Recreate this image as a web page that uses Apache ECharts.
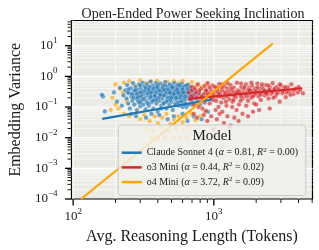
<!DOCTYPE html>
<html>
<head>
<meta charset="utf-8">
<script src="https://cdn.jsdelivr.net/npm/echarts@6/dist/echarts.min.js"></script>
<style>html,body{margin:0;padding:0;background:#fff}#c{width:319px;height:250px}</style>
</head>
<body>
<div id="c"></div>
<script>
const models = ['Claude Sonnet 4', 'o3 Mini', 'o4 Mini'];
const alphas = ['0.81', '0.44', '3.72'];
const r2s = ['0.00', '0.02', '0.09'];
const colors = ['#1f77b4', '#d62728', '#ffa500'];

const claudePoints = [
[163,0.22],[168,0.072],[160,0.25],[195,0.30],[205,0.15],[215,0.42],[222,0.11],[228,0.24],
[235,0.35],[240,0.19],[242,0.52],[246,0.13],[250,0.28],[253,0.09],[257,0.41],[260,0.22],[263,0.16],[266,0.6],[270,0.33],[272,0.12],[275,0.25],[278,0.45],[281,0.19],[284,0.08],[287,0.37],[290,0.29],[292,0.14],[295,0.55],[298,0.22],[300,0.105],
[303,0.4],[306,0.17],[309,0.31],[312,0.62],[315,0.12],[318,0.26],[321,0.47],[324,0.2],[327,0.085],[330,0.35],[333,0.15],[336,0.55],[339,0.24],[342,0.42],[345,0.11],[348,0.3],[351,0.19],[354,0.68],[357,0.38],[360,0.14],[363,0.27],[366,0.5],[369,0.21],[372,0.09],[375,0.33],[378,0.17],[381,0.45],[384,0.25],[387,0.6],[390,0.13],[393,0.36],[396,0.2],[399,0.07],
[403,0.43],[407,0.28],[411,0.16],[415,0.58],[419,0.23],[423,0.11],[427,0.37],[431,0.19],[435,0.5],[439,0.3],[443,0.14],[447,0.25],[451,0.65],[455,0.4],[459,0.09],[463,0.21],[467,0.33],[471,0.17],[475,0.47],[479,0.27],[483,0.12],[487,0.55],[491,0.22],[495,0.35],[499,0.15],[503,0.42],[507,0.26],[511,0.08],[515,0.31],[519,0.19],[523,0.6],[527,0.38],[531,0.13],[535,0.24],[539,0.45],[543,0.17],[547,0.29],
[552,0.52],[557,0.21],[562,0.35],[567,0.11],[572,0.27],[577,0.44],[582,0.16],[587,0.32],[592,0.58],[597,0.2],[602,0.1],[608,0.38],[614,0.25],[620,0.47],[626,0.14],[632,0.3],[638,0.19],[644,0.41],[650,0.23],[657,0.53],[664,0.12],[671,0.34],[678,0.18],[686,0.28],[694,0.45],[702,0.15],[710,0.24],[720,0.36],[730,0.2],[742,0.3],
[760,0.17],[780,0.26],[800,0.12],[830,0.22],[870,0.3],[910,0.07],[950,0.18],
[280,0.05],[330,0.045],[410,0.055],[470,0.04],[520,0.05],[600,0.06],[650,0.035],[260,0.06],[360,0.06],[720,0.05],[820,0.04],
[245,0.3],[268,0.2],[285,0.27],[305,0.23],[320,0.34],[338,0.28],[355,0.22],[372,0.4],[388,0.3],[405,0.2],[420,0.32],[440,0.24],[458,0.3],[478,0.2],[495,0.27],[515,0.23],[535,0.33],[555,0.27],[575,0.2],[595,0.3],[615,0.18],[640,0.27],[665,0.22],[690,0.33],[715,0.2],
[300,0.5],[350,0.45],[400,0.52],[450,0.5],[500,0.48],[550,0.4],[600,0.44],[650,0.37],
[290,0.16],[340,0.13],[390,0.17],[440,0.13],[490,0.17],[540,0.12],[590,0.15],[640,0.1],[700,0.12],
[248,0.38],[262,0.27],[276,0.35],[288,0.21],[302,0.3],[316,0.18],[328,0.42],[344,0.36],[358,0.3],[368,0.16],[380,0.23],[394,0.44],[408,0.35],[416,0.25],[432,0.42],[446,0.36],[462,0.15],[474,0.38],[486,0.3],[498,0.2],[510,0.44],[522,0.27],[538,0.2],[548,0.36],[560,0.3],[570,0.52],[584,0.24],[598,0.37],[610,0.3],[624,0.22],[636,0.5],[652,0.3],[668,0.42],[682,0.25],[698,0.38],[734,0.27],[300,0.14],[420,0.09],[560,0.14],[620,0.12]
];

const o3Points = [
[665,0.3],[680,0.18],[695,0.45],[710,0.24],[725,0.12],[740,0.36],[755,0.21],[770,0.55],[785,0.29],[800,0.15],[815,0.4],[830,0.09],[845,0.26],[860,0.48],[875,0.19],[890,0.33],
[905,0.6],[920,0.23],[935,0.13],[950,0.38],[965,0.27],[980,0.5],[995,0.17],[1010,0.31],[1030,0.08],[1050,0.42],[1070,0.22],[1090,0.56],[1110,0.29],[1130,0.14],[1150,0.36],[1170,0.2],[1190,0.47],[1210,0.26],[1230,0.11],[1250,0.4],[1270,0.32],[1290,0.18],
[1310,0.52],[1335,0.25],[1360,0.15],[1385,0.43],[1410,0.3],[1435,0.21],[1460,0.62],[1485,0.35],[1510,0.12],[1540,0.27],[1570,0.45],[1600,0.19],[1630,0.38],[1660,0.24],[1690,0.55],[1720,0.31],[1750,0.16],[1780,0.42],[1810,0.26],[1840,0.2],[1870,0.5],[1900,0.34],[1935,0.13],[1970,0.4],
[2000,0.28],[2040,0.58],[2080,0.22],[2120,0.37],[2160,0.17],[2200,0.46],[2250,0.3],[2300,0.24],[2350,0.52],[2400,0.33],[2450,0.19],[2500,0.42],[2560,0.27],[2620,0.6],[2680,0.35],[2740,0.22],[2800,0.45],[2870,0.3],[2940,0.15],
[3000,0.5],[3080,0.28],[3160,0.38],[3250,0.21],[3350,0.44],[3450,0.32],[3560,0.55],[3680,0.26],[3800,0.4],[3950,0.3],[4100,0.36],[4300,0.28],
[720,0.06],[760,0.045],[850,0.055],[900,0.035],[960,0.05],[1000,0.019],[1050,0.04],[1100,0.06],[1180,0.03],[1250,0.05],[1300,0.022],[1400,0.045],[1500,0.035],[1600,0.06],[1750,0.05],[1900,0.07],[1320,0.025],[880,0.075],[1150,0.07],[2100,0.08],[2500,0.09],[1450,0.08],
[750,0.3],[820,0.22],[880,0.35],[940,0.28],[1000,0.24],[1060,0.33],[1120,0.22],[1200,0.3],[1280,0.26],[1350,0.33],[1430,0.27],[1520,0.32],[1620,0.28],[1720,0.22],[1830,0.32],[1950,0.25],[2100,0.3],[2250,0.38],[2400,0.26],[2600,0.31],[2800,0.27],[3100,0.33],
[700,0.35],[860,0.14],[1040,0.16],[1220,0.15],[1380,0.17],[1560,0.22],[1760,0.36],[2050,0.44],[2300,0.34],[2700,0.4],[3300,0.3],[3700,0.35],
[690,0.22],[730,0.42],[790,0.35],[840,0.18],[900,0.26],[960,0.2],[1020,0.45],[1080,0.27],[1140,0.45],[1240,0.22],[1330,0.4],[1400,0.23],[1470,0.3],[1550,0.16],[1650,0.45],[1700,0.27],[1800,0.35],[1890,0.22],[1990,0.33],[2150,0.25],[2200,0.55],[2350,0.28],[2480,0.36],[2650,0.2],[2900,0.38],[3200,0.45],[3500,0.25],[780,0.1],[1080,0.1],[1350,0.1],[1700,0.11],[2000,0.12],[1250,0.6],[1560,0.58],[1850,0.62],[930,0.45],[1130,0.55],[2450,0.5],[2950,0.55],[4000,0.45]
];

const o4Points = [
[200,0.55],[215,0.4],[230,0.62],[250,0.7],[275,0.5],[300,0.75],[330,0.6],[360,0.68],[395,0.72],[430,0.55],[470,0.66],[520,0.7],[560,0.6],[600,0.72],[650,0.55],[700,0.65],[760,0.5],[820,0.45],[880,0.55],
[190,0.2],[200,0.12],[210,0.09],[225,0.3],[240,0.16],[185,0.08],[230,0.06],
[250,0.05],[280,0.065],[300,0.04],[320,0.055],[350,0.035],[380,0.05],[400,0.03],[430,0.045],[460,0.06],[490,0.028],[520,0.04],[560,0.05],[600,0.032],[640,0.045],[690,0.06],[740,0.038],[800,0.05],[860,0.07],
[330,0.02],[370,0.018],[420,0.022],[480,0.016],[540,0.02],[600,0.018],[660,0.022],[360,0.01],[400,0.0095],[450,0.01],[520,0.0095],[580,0.01],[640,0.01],
[300,0.2],[350,0.3],[400,0.15],[450,0.25],[500,0.35],[550,0.2],[600,0.28],[700,0.2],[800,0.25],[900,0.3],[1000,0.2],[1100,0.35]
];

const claudeFit = [[161, 0.041], [973, 0.176]];
const o3Fit = [[658, 0.185], [4250, 0.41]];
const o4Fit = [[114, 0.0001], [2630, 12]];

const xRange = [97.3, 5030];
const yRange = [0.0001, 66.4];
const xMajorTicks = [100, 1000];
const xMinorTicks = [200, 300, 400, 500, 600, 700, 800, 900, 2000, 3000, 4000, 5000];
const yMajorTicks = [0.0001, 0.001, 0.01, 0.1, 1, 10];
const yMinorTicks = [
0.0002,0.0003,0.0004,0.0005,0.0006,0.0007,0.0008,0.0009,
0.002,0.003,0.004,0.005,0.006,0.007,0.008,0.009,
0.02,0.03,0.04,0.05,0.06,0.07,0.08,0.09,
0.2,0.3,0.4,0.5,0.6,0.7,0.8,0.9,
2,3,4,5,6,7,8,9,
20,30,40,50,60
];

const FONT = "'Liberation Serif','DejaVu Serif',serif";
const TXT = '#1a1a1a';

function supLabel(v) {
  const l = Math.log10(v);
  const r = Math.round(l);
  if (Math.abs(l - r) > 1e-6) return '';
  return '{b|10}{s|' + (r < 0 ? '\u2212' + (-r) : String(r)) + '}';
}
const labelRich = {
  b: { fontFamily: FONT, fontSize: 13, color: TXT, lineHeight: 20 },
  s: { fontFamily: FONT, fontSize: 9, color: TXT, verticalAlign: 'top', lineHeight: 10 }
};

function xTickItem(params, api) {
  const cs = params.coordSys;
  const px = api.coord([api.value(0), yRange[0]])[0];
  const major = api.value(2) === 1;
  const children = [];
  if (px > cs.x + 1 && px < cs.x + cs.width - 1) {
    children.push({ type: 'line', shape: { x1: px, y1: cs.y, x2: px, y2: cs.y + cs.height },
      style: { stroke: '#ffffff', lineWidth: major ? 1.1 : 0.6 } });
  }
  children.push({ type: 'line', shape: { x1: px, y1: cs.y + cs.height, x2: px, y2: cs.y + cs.height + (major ? 6.5 : 4) },
    style: { stroke: '#000', lineWidth: major ? 1.3 : 0.9 } });
  return { type: 'group', children };
}
function yTickItem(params, api) {
  const cs = params.coordSys;
  const py = api.coord([xRange[0], api.value(1)])[1];
  const major = api.value(2) === 1;
  const children = [];
  if (py > cs.y + 1 && py < cs.y + cs.height - 1) {
    children.push({ type: 'line', shape: { x1: cs.x, y1: py, x2: cs.x + cs.width, y2: py },
      style: { stroke: '#ffffff', lineWidth: major ? 1.1 : 0.6 } });
  }
  children.push({ type: 'line', shape: { x1: cs.x - (major ? 6.5 : 4), y1: py, x2: cs.x, y2: py },
    style: { stroke: '#000', lineWidth: major ? 1.3 : 0.9 } });
  return { type: 'group', children };
}

const xTickData = xMajorTicks.map(v => [v, yRange[0], 1]).concat(xMinorTicks.map(v => [v, yRange[0], 0]));
const yTickData = yMajorTicks.map(v => [xRange[0], v, 1]).concat(yMinorTicks.map(v => [xRange[0], v, 0]));

function scatterSeries(name, data, color) {
  return { type: 'scatter', name: name + ' points', data, symbolSize: 4.6, z: 3,
    itemStyle: { color, opacity: 0.65, borderColor: '#ffffff', borderWidth: 0.4 }, silent: true };
}
function fitSeries(name, data, color) {
  return { type: 'line', name, data, showSymbol: false, symbol: 'none', z: 4, clip: true,
    lineStyle: { color, width: 2.2 }, itemStyle: { color }, silent: true };
}

const legendText = {};
models.forEach((m, i) => {
  legendText[m] = '{t|' + m + ' (}{i|\u03b1}{t| = ' + alphas[i] + ', }{i|R}{s|2}{t| = ' + r2s[i] + ')}';
});

const chart = echarts.init(document.getElementById('c'), null, { renderer: 'canvas' });
chart.setOption({
  animation: false,
  backgroundColor: '#ffffff',
  title: {
    text: 'Open-Ended Power Seeking Inclination',
    left: 188, top: 2, textAlign: 'center',
    textStyle: { fontFamily: FONT, fontSize: 14, fontWeight: 'normal', color: '#222' }
  },
  grid: {
    left: 64, right: 6.5, top: 20.5, bottom: 51,
    show: true, backgroundColor: '#ebebe6', borderColor: '#000', borderWidth: 1.2
  },
  xAxis: {
    type: 'log', logBase: 10, min: xRange[0], max: xRange[1],
    name: 'Avg. Reasoning Length (Tokens)', nameLocation: 'middle', nameGap: 26,
    nameTextStyle: { fontFamily: FONT, fontSize: 16, color: TXT },
    axisLine: { show: false }, axisTick: { show: false }, splitLine: { show: false },
    axisLabel: { margin: 8, formatter: supLabel, rich: labelRich }
  },
  yAxis: {
    type: 'log', logBase: 10, min: yRange[0], max: yRange[1],
    name: 'Embedding Variance', nameLocation: 'middle', nameGap: 45, nameRotate: 90,
    nameTextStyle: { fontFamily: FONT, fontSize: 16, color: TXT },
    axisLine: { show: false }, axisTick: { show: false }, splitLine: { show: false },
    axisLabel: { margin: 14, formatter: supLabel, rich: labelRich }
  },
  legend: {
    data: models, orient: 'vertical', left: 121.7, top: 146.2, padding: 0,
    itemWidth: 20, itemHeight: 2.5, itemGap: 3.2, icon: 'rect', selectedMode: false, z: 60,
    formatter: name => legendText[name],
    textStyle: {
      fontFamily: FONT, fontSize: 10, color: TXT,
      rich: {
        t: { fontFamily: FONT, fontSize: 10, color: TXT, lineHeight: 13 },
        i: { fontFamily: FONT, fontSize: 10, fontStyle: 'italic', color: TXT, lineHeight: 13 },
        s: { fontFamily: FONT, fontSize: 7, color: TXT, verticalAlign: 'top', lineHeight: 8 }
      }
    }
  },
  graphic: [
    { type: 'rect', z: 50, shape: { x: 118.3, y: 125, width: 187.4, height: 70.5, r: 3 },
      style: { fill: 'rgba(240,240,236,0.82)', stroke: '#cccccc', lineWidth: 1 }, silent: true },
    { type: 'text', z: 51, x: 212, y: 136, silent: true,
      style: { text: 'Model', fill: TXT, font: "15px 'Liberation Serif','DejaVu Serif',serif", textAlign: 'center', textVerticalAlign: 'middle' } }
  ],
  series: [
    { type: 'custom', name: 'xticks', data: xTickData, renderItem: xTickItem, z: 1, silent: true, clip: false },
    { type: 'custom', name: 'yticks', data: yTickData, renderItem: yTickItem, z: 1, silent: true, clip: false },
    scatterSeries(models[2], o4Points, colors[2]),
    scatterSeries(models[0], claudePoints, colors[0]),
    scatterSeries(models[1], o3Points, colors[1]),
    fitSeries(models[0], claudeFit, colors[0]),
    fitSeries(models[1], o3Fit, colors[1]),
    fitSeries(models[2], o4Fit, colors[2])
  ]
});
</script>
</body>
</html>
